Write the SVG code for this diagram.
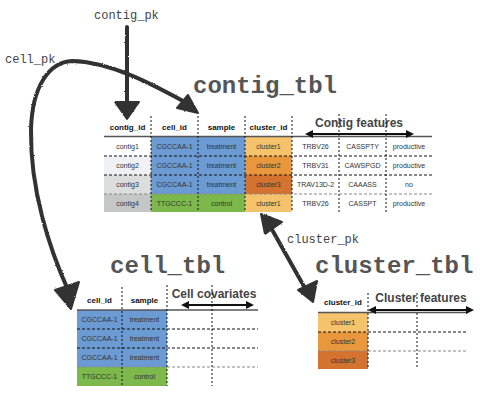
<svg xmlns="http://www.w3.org/2000/svg" width="489" height="400" viewBox="0 0 489 400">
<defs>
<filter id="rough" x="-10%" y="-10%" width="120%" height="120%">
<feTurbulence type="fractalNoise" baseFrequency="0.9" numOctaves="2" seed="3" result="n"/>
<feDisplacementMap in="SourceGraphic" in2="n" scale="2" xChannelSelector="R" yChannelSelector="G"/>
</filter>
<style>
.title{font-family:"Liberation Mono","Courier New",monospace;font-weight:bold;font-size:24px;fill:#555}
.lab{font-family:"Liberation Mono","Courier New",monospace;font-size:12px;fill:#444}
.hd{font-family:"Liberation Sans",Arial,sans-serif;font-weight:bold;font-size:8px;fill:#111;text-anchor:middle}
.td{font-family:"Liberation Sans",Arial,sans-serif;font-size:7px;fill:#333;text-anchor:middle}
.ft{font-family:"Liberation Sans",Arial,sans-serif;font-weight:bold;font-size:12px;fill:#444;text-anchor:middle}
.vd{stroke:#111;stroke-width:1;stroke-dasharray:2 2;fill:none}
.hdash{stroke:#111;stroke-width:1;stroke-dasharray:3 2;fill:none}
.hgray{stroke:#888;stroke-width:1;stroke-dasharray:3 2;fill:none}
.hline{stroke:#555;stroke-width:1.5;fill:none}
.sk{stroke:#333;stroke-width:4;fill:none;stroke-linecap:round;stroke-linejoin:round}
.hd2{fill:#333;stroke:#333;stroke-width:2;stroke-linejoin:round}
.dbl{stroke:#111;stroke-width:2;fill:none}
.blue{fill:#6b9bd2}.green{fill:#7cb84c}.c1{fill:#f4c36b}.c2{fill:#e8973d}.c3{fill:#d4732f}
</style>
</defs>

<g id="contig_tbl">
<text class="title" x="193" y="93">contig_tbl</text>
<rect x="104" y="137" width="47" height="19" fill="#ffffff"/>
<rect x="104" y="156" width="47" height="19" fill="#eff1f5"/>
<rect x="104" y="175" width="47" height="19" fill="#dcdddd"/>
<rect x="104" y="194" width="47" height="18" fill="#c5c7c6"/>
<rect class="blue" x="151" y="137" width="94" height="57"/>
<rect class="green" x="151" y="194" width="94" height="18"/>
<rect class="c1" x="245" y="137" width="47" height="19"/>
<rect class="c2" x="245" y="156" width="47" height="19"/>
<rect class="c3" x="245" y="175" width="47" height="19"/>
<rect class="c1" x="245" y="194" width="47" height="18"/>
<text class="hd" x="127.5" y="130">contig_id</text>
<text class="hd" x="174.5" y="130">cell_id</text>
<text class="hd" x="221.5" y="130">sample</text>
<text class="hd" x="268.5" y="130">cluster_id</text>
<text class="ft" x="359" y="127">Contig features</text>
<line class="hline" x1="104" y1="136.5" x2="432" y2="136.5"/>
<line class="hdash" x1="104" y1="156" x2="432" y2="156"/>
<line class="hdash" x1="104" y1="175" x2="432" y2="175"/>
<line class="hgray" x1="104" y1="194" x2="432" y2="194"/>
<line class="vd" x1="151" y1="116" x2="151" y2="212"/>
<line class="vd" x1="198" y1="116" x2="198" y2="212"/>
<line class="vd" x1="245" y1="116" x2="245" y2="212"/>
<line class="vd" x1="292" y1="116" x2="292" y2="212"/>
<line class="vd" x1="339" y1="114" x2="339" y2="212"/>
<line class="vd" x1="386" y1="114" x2="386" y2="212"/>
<line class="dbl" x1="312" y1="134" x2="407" y2="134"/>
<polygon points="305,134 313,130 313,138" fill="#111"/>
<polygon points="414,134 406,130 406,138" fill="#111"/>
<text class="td" x="127.5" y="149">contig1</text>
<text class="td" x="127.5" y="168">contig2</text>
<text class="td" x="127.5" y="187">contig3</text>
<text class="td" x="127.5" y="205.5">contig4</text>
<text class="td" x="174.5" y="149">CGCCAA-1</text>
<text class="td" x="174.5" y="168">CGCCAA-1</text>
<text class="td" x="174.5" y="187">CGCCAA-1</text>
<text class="td" x="174.5" y="205.5">TTGCCC-1</text>
<text class="td" x="221.5" y="149">treatment</text>
<text class="td" x="221.5" y="168">treatment</text>
<text class="td" x="221.5" y="187">treatment</text>
<text class="td" x="221.5" y="205.5">control</text>
<text class="td" x="268.5" y="149">cluster1</text>
<text class="td" x="268.5" y="168">cluster2</text>
<text class="td" x="268.5" y="187">cluster3</text>
<text class="td" x="268.5" y="205.5">cluster1</text>
<text class="td" x="315.5" y="149">TRBV26</text>
<text class="td" x="315.5" y="168">TRBV31</text>
<text class="td" x="315.5" y="187">TRAV13D-2</text>
<text class="td" x="315.5" y="205.5">TRBV26</text>
<text class="td" x="362.5" y="149">CASSPTY</text>
<text class="td" x="362.5" y="168">CAWSPGD</text>
<text class="td" x="362.5" y="187">CAAASS</text>
<text class="td" x="362.5" y="205.5">CASSPT</text>
<text class="td" x="409" y="149">productive</text>
<text class="td" x="409" y="168">productive</text>
<text class="td" x="409" y="187">no</text>
<text class="td" x="409" y="205.5">productive</text>
</g>

<g id="cell_tbl">
<text class="title" x="110" y="273">cell_tbl</text>
<rect class="blue" x="77" y="310" width="90" height="57"/>
<rect class="green" x="77" y="367" width="90" height="19"/>
<text class="hd" x="99.5" y="303">cell_id</text>
<text class="hd" x="144.5" y="303">sample</text>
<text class="ft" x="214" y="298">Cell covariates</text>
<line class="hline" x1="77" y1="310" x2="258" y2="310"/>
<line class="hdash" x1="77" y1="329" x2="258" y2="329"/>
<line class="hdash" x1="77" y1="348" x2="258" y2="348"/>
<line class="hgray" x1="77" y1="367" x2="258" y2="367"/>
<line class="vd" x1="122" y1="287" x2="122" y2="386"/>
<line class="vd" x1="167" y1="285" x2="167" y2="386"/>
<line class="vd" x1="212" y1="285" x2="212" y2="386"/>
<line class="dbl" x1="188" y1="305" x2="247" y2="305"/>
<polygon points="181,305 189,301 189,309" fill="#111"/>
<polygon points="254,305 246,301 246,309" fill="#111"/>
<text class="td" x="99.5" y="322">CGCCAA-1</text>
<text class="td" x="99.5" y="341">CGCCAA-1</text>
<text class="td" x="99.5" y="360">CGCCAA-1</text>
<text class="td" x="99.5" y="379">TTGCCC-1</text>
<text class="td" x="144.5" y="322">treatment</text>
<text class="td" x="144.5" y="341">treatment</text>
<text class="td" x="144.5" y="360">treatment</text>
<text class="td" x="144.5" y="379">control</text>
</g>

<g id="cluster_tbl">
<text class="title" x="315" y="273">cluster_tbl</text>
<rect class="c1" x="318" y="313" width="50" height="19"/>
<rect class="c2" x="318" y="332" width="50" height="19"/>
<rect class="c3" x="318" y="351" width="50" height="18"/>
<text class="hd" x="343" y="305">cluster_id</text>
<text class="ft" x="421" y="302">Cluster features</text>
<line class="hline" x1="318" y1="312.5" x2="467" y2="312.5"/>
<line class="hdash" x1="318" y1="332" x2="467" y2="332"/>
<line class="hgray" x1="318" y1="351" x2="467" y2="351"/>
<line class="vd" x1="368" y1="293" x2="368" y2="369"/>
<line class="vd" x1="417" y1="293" x2="417" y2="369"/>
<line class="dbl" x1="375" y1="310" x2="467" y2="310"/>
<polygon points="368,310 376,306 376,314" fill="#111"/>
<polygon points="474,310 466,306 466,314" fill="#111"/>
<text class="td" x="343" y="325">cluster1</text>
<text class="td" x="343" y="344">cluster2</text>
<text class="td" x="343" y="362.5">cluster3</text>
</g>

<g id="connectors">
<text class="lab" x="94" y="19">contig_pk</text>
<text class="lab" x="5" y="63">cell_pk</text>
<text class="lab" x="287" y="243">cluster_pk</text>
<g filter="url(#rough)">
<line class="sk" x1="127" y1="27" x2="127" y2="103"/>
<polygon class="hd2" points="115,102 139,102 127,119"/>
<path class="sk" d="M 68,290 C 50,250 30,190 31,130 C 32,85 50,62 72,61 C 110,62 150,83 183,101"/>
<polygon class="hd2" points="55,290 79,282 71,309"/>
<polygon class="hd2" points="177,108 188,95 198,113"/>
<line class="sk" x1="270" y1="226" x2="306" y2="290"/>
<polygon class="hd2" points="261,214 282,222 265,234"/>
<polygon class="hd2" points="298,290 317,281 313,302"/>
</g>
</g>
</svg>
